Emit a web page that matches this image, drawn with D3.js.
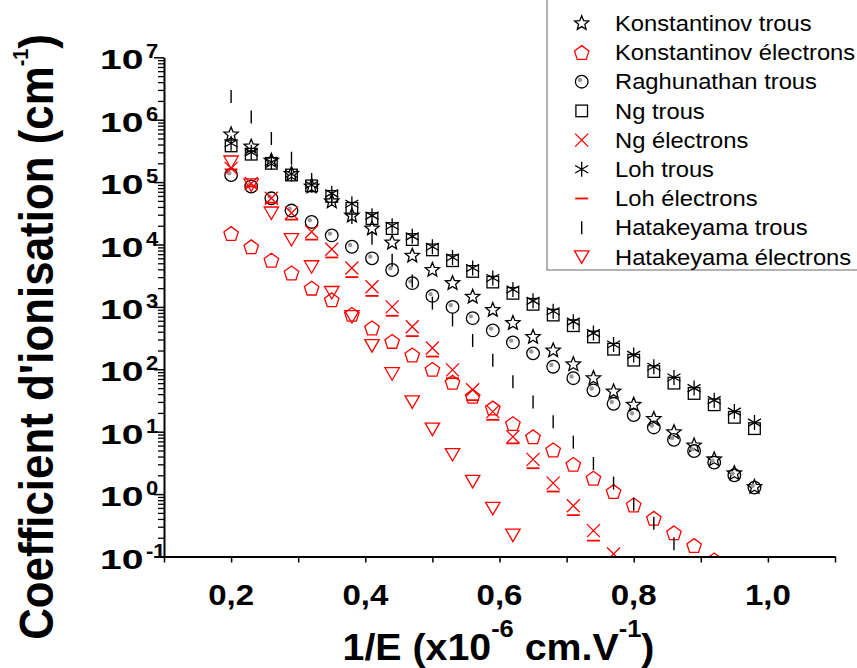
<!DOCTYPE html>
<html><head><meta charset="utf-8">
<script src="https://cdn.jsdelivr.net/npm/d3@7"></script>
<style>html,body{margin:0;padding:0;background:#fff;} svg{display:block;}</style>
</head><body>
<svg id="c" width="857" height="668"></svg>
<script>
// ---------- data ----------
const xValues = [0.20,0.23,0.26,0.29,0.32,0.35,0.38,0.41,0.44,0.47,0.50,0.53,0.56,0.59,0.62,0.65,0.68,0.71,0.74,0.77,0.80,0.83,0.86,0.89,0.92,0.95,0.98];
const konstantinovTrous = [5.8e5,3.7e5,2.2e5,1.35e5,8.5e4,4.9e4,2.9e4,1.8e4,1.07e4,6.6e3,3.9e3,2.4e3,1.45e3,8.9e2,5.5e2,3.3e2,2.0e2,1.2e2,72,44,27,16,9.8,6.0,3.6,2.15,1.3];
const konstantinovElectrons = [1.5e4,9.2e3,5.6e3,3.5e3,2.0e3,1.3e3,7.6e2,4.6e2,2.8e2,1.7e2,1.0e2,62,37,24,13.5,8.3,5.1,3.0,1.8,1.1,0.67,0.41,0.24,0.15,0.088];
const raghunathanTrous = [1.3e5,8.5e4,5.5e4,3.5e4,2.3e4,1.4e4,9.2e3,6.0e3,3.9e3,2.4e3,1.5e3,1.0e3,6.6e2,4.2e2,2.7e2,1.8e2,1.1e2,72,46,28,18.5,11.7,7.4,4.9,3.2,2.0,1.27];
const ngTrous = [3.8e5,2.8e5,2.0e5,1.3e5,8.7e4,5.9e4,3.8e4,2.6e4,1.8e4,1.2e4,8.2e3,5.5e3,3.7e3,2.5e3,1.65e3,1.1e3,7.4e2,5.0e2,3.3e2,2.1e2,1.4e2,92,60,41,27,17,11.2];
const ngElectrons = [1.66e5,9.5e4,5.5e4,3.2e4,1.6e4,8.4e3,4.2e3,2.1e3,1.0e3,4.8e2,2.2e2,98,47,21,8.3,3.6,1.5,0.65,0.26,0.11];
const lohTrous = [4.2e5,3.0e5,2.1e5,1.35e5,9.0e4,6.6e4,4.5e4,2.9e4,2.0e4,1.35e4,9.2e3,6.2e3,4.2e3,2.9e3,1.9e3,1.25e3,8.5e2,5.8e2,3.8e2,2.5e2,1.7e2,1.1e2,74,50,32,21,14];
const lohElectrons = [1.6e5,8.5e4,4.7e4,2.5e4,1.2e4,6.2e3,3.0e3,1.5e3,7.2e2,3.4e2,1.6e2,72,32,15.5,6.5,2.6,1.1,0.46,0.18];
const hatakeyamaTrous = [2.35e6,1.1e6,5.0e5,2.4e5,1.1e5,5.3e4,2.7e4,1.26e4,5.6e3,2.6e3,1.15e3,6.2e2,2.9e2,1.4e2,63,30,14.5,6.8,3.1,1.5,0.69,0.34,0.16];
const hatakeyamaElectrons = [2.1e5,9.0e4,3.2e4,1.2e4,4.4e3,1.7e3,7.0e2,2.4e2,85,30,11,4.3,1.6,0.59,0.22,0.08];

const seriesNames = ["Konstantinov trous","Konstantinov électrons","Raghunathan trous","Ng trous","Ng électrons","Loh trous","Loh électrons","Hatakeyama trous","Hatakeyama électrons"];
const seriesValues = [konstantinovTrous,konstantinovElectrons,raghunathanTrous,ngTrous,ngElectrons,lohTrous,lohElectrons,hatakeyamaTrous,hatakeyamaElectrons];
const seriesShapes = ["star","pentagon","circle","square","x","asterisk","dash","bar","triangle"];
const seriesColors = ["#000","#ff0000","#000","#000","#ff0000","#000","#ff0000","#000","#ff0000"];

const xTickValues = [0.1,0.2,0.3,0.4,0.5,0.6,0.7,0.8,0.9,1.0,1.1];
const xLabelValues = [0.2,0.4,0.6,0.8,1.0];
const xTickLabels = ["0,2","0,4","0,6","0,8","1,0"];
const yTickExponents = [-1,0,1,2,3,4,5,6,7];

// ---------- setup ----------
const FONT = '"Liberation Sans", Arial, Helvetica, sans-serif';
const svg = d3.select('#c');
const x = d3.scaleLinear().domain([0.1,1.1]).range([164,835]);
const y = d3.scaleLog().domain([0.1,1e7]).range([556.5,57.3]);

svg.append('defs').append('clipPath').attr('id','plotclip')
  .append('rect').attr('x',164).attr('y',40).attr('width',680).attr('height',516.5);

// ---------- marker shapes ----------
function polyPath(pts){ return 'M' + pts.map(p=>p[0].toFixed(2)+','+p[1].toFixed(2)).join('L') + 'Z'; }
function starPath(R, r){
  const pts=[]; for(let i=0;i<10;i++){ const a=-Math.PI/2 + i*Math.PI/5; const rr = i%2===0?R:r; pts.push([rr*Math.cos(a), rr*Math.sin(a)]); }
  return polyPath(pts);
}
function pentPath(R){
  const pts=[]; for(let i=0;i<5;i++){ const a=-Math.PI/2 + i*2*Math.PI/5; pts.push([R*Math.cos(a), R*Math.sin(a)]); }
  const ys = pts.map(p=>p[1]); const dy = -(Math.min(...ys)+Math.max(...ys))/2;
  return polyPath(pts.map(p=>[p[0],p[1]+dy]));
}
function drawMarker(g, shape, color){
  const sw = 1.3;
  if(shape==='star'){
    g.append('path').attr('d',starPath(7.5,3.3)).attr('fill','none').attr('stroke',color).attr('stroke-width',sw);
  } else if(shape==='pentagon'){
    g.append('path').attr('d',pentPath(7.6)).attr('fill','none').attr('stroke',color).attr('stroke-width',sw);
  } else if(shape==='circle'){
    g.append('circle').attr('r',6.3).attr('fill','none').attr('stroke',color).attr('stroke-width',sw);
    g.append('circle').attr('cx',-1.8).attr('cy',-1.8).attr('r',2.2).attr('fill','#9a9a9a');
  } else if(shape==='square'){
    g.append('rect').attr('x',-5.8).attr('y',-5.8).attr('width',11.6).attr('height',11.6).attr('fill','none').attr('stroke',color).attr('stroke-width',sw);
  } else if(shape==='x'){
    g.append('path').attr('d','M-6.5,-6.5L6.5,6.5M-6.5,6.5L6.5,-6.5').attr('fill','none').attr('stroke',color).attr('stroke-width',sw);
  } else if(shape==='asterisk'){
    g.append('path').attr('d','M0,-7.5L0,7.5M-6.5,-3.75L6.5,3.75M-6.5,3.75L6.5,-3.75').attr('fill','none').attr('stroke',color).attr('stroke-width',sw);
  } else if(shape==='dash'){
    g.append('path').attr('d','M-6.5,0L6.5,0').attr('stroke',color).attr('stroke-width',1.8);
  } else if(shape==='bar'){
    g.append('path').attr('d','M0,-6.5L0,6.5').attr('stroke',color).attr('stroke-width',1.4);
  } else if(shape==='triangle'){
    g.append('path').attr('d','M-7.2,-6L7.2,-6L0,6.5Z').attr('fill','none').attr('stroke',color).attr('stroke-width',sw);
  }
}

// ---------- points ----------
const plot = svg.append('g').attr('clip-path','url(#plotclip)');
seriesValues.forEach((vals, si) => {
  const sg = plot.append('g').attr('class','series');
  vals.forEach((v, i) => {
    const g = sg.append('g').attr('transform', `translate(${x(xValues[i])},${y(v)})`);
    drawMarker(g, seriesShapes[si], seriesColors[si]);
  });
});

// ---------- axes ----------
const yMinor = [];
for(let e=-1;e<7;e++){ for(let m=2;m<=9;m++){ yMinor.push(m*Math.pow(10,e)); } }
const yMajor = yTickExponents.map(e=>Math.pow(10,e));

const gyMinor = svg.append('g').attr('transform','translate(164,0)')
  .call(d3.axisLeft(y).tickValues(yMinor).tickSize(6).tickFormat(''));
gyMinor.select('.domain').remove();
gyMinor.selectAll('line').attr('stroke','#000').attr('stroke-width',1.3);

const gyMajor = svg.append('g').attr('transform','translate(164,0)')
  .call(d3.axisLeft(y).tickValues(yMajor).tickSizeInner(10).tickSizeOuter(0).tickFormat(''));
gyMajor.selectAll('line').attr('stroke','#000').attr('stroke-width',1.5);
gyMajor.select('.domain').attr('stroke','#000').attr('stroke-width',2);

const gx = svg.append('g').attr('transform','translate(0,556.5)')
  .call(d3.axisBottom(x).tickValues(xTickValues).tickSizeInner(6).tickSizeOuter(0).tickFormat(''));
gx.selectAll('line').attr('stroke','#000').attr('stroke-width',1.5);
gx.select('.domain').attr('stroke','#000').attr('stroke-width',2);

// y tick labels
yTickExponents.forEach(e => {
  const ty = y(Math.pow(10,e));
  svg.append('text').attr('transform',`translate(100,${ty+12}) scale(1.42,1)`)
    .attr('font-family',FONT).attr('font-weight','bold').attr('font-size',27.5)
    .text('10');
  svg.append('text').attr('transform',`translate(146,${ty+1}) scale(1.1,1)`)
    .attr('font-family',FONT).attr('font-weight','bold').attr('font-size',20)
    .text(e<0 ? '-' + (-e) : String(e));
});

// x tick labels
xLabelValues.forEach((v,i) => {
  svg.append('text').attr('transform',`translate(${x(v)},605) scale(1.1,1)`)
    .attr('text-anchor','middle')
    .attr('font-family',FONT).attr('font-weight','bold').attr('font-size',30)
    .text(xTickLabels[i]);
});

// fit helper
function fitGroup(g, text, targetW, sy){
  const bb = text.node().getBBox();
  const s = targetW / bb.width;
  text.attr('transform', `scale(${s},${sy||1})`);
}

// x title
{
  const g = svg.append('g').attr('transform','translate(498.5,659.7)');
  const t = g.append('text').attr('text-anchor','middle').attr('font-family',FONT).attr('font-weight','bold').attr('font-size',37);
  t.append('tspan').text('1/E (x10');
  t.append('tspan').attr('font-size',24).attr('dy',-23).text('-6');
  t.append('tspan').attr('dy',23).text(' cm.V');
  t.append('tspan').attr('font-size',24).attr('dy',-23).text('-1');
  t.append('tspan').attr('dy',23).text(')');
  fitGroup(g, t, 312);
}
// y title
{
  const g = svg.append('g').attr('transform','translate(53,337) rotate(-90)');
  const t = g.append('text').attr('text-anchor','middle').attr('font-family',FONT).attr('font-weight','bold').attr('font-size',49);
  t.append('tspan').text("Coefficient d'ionisation (cm");
  t.append('tspan').attr('font-size',22).attr('dy',-25).text('-1');
  t.append('tspan').attr('dy',25).text(')');
  fitGroup(g, t, 606);
}

// ---------- legend ----------
const lg = svg.append('g');
lg.append('rect').attr('x',547).attr('y',-3).attr('width',330).attr('height',273)
  .attr('fill','#fff').attr('stroke','#808080').attr('stroke-width',1.2);
seriesNames.forEach((name, i) => {
  const cy = 23.3 + i*29.2;
  const mg = lg.append('g').attr('transform',`translate(581.7,${cy})`);
  drawMarker(mg, seriesShapes[i], seriesColors[i]);
  lg.append('text').attr('transform',`translate(615,${cy+7.7}) scale(1.08,1)`)
    .attr('font-family',FONT).attr('font-size',22).attr('fill','#000').text(name);
});
</script>
</body></html>
